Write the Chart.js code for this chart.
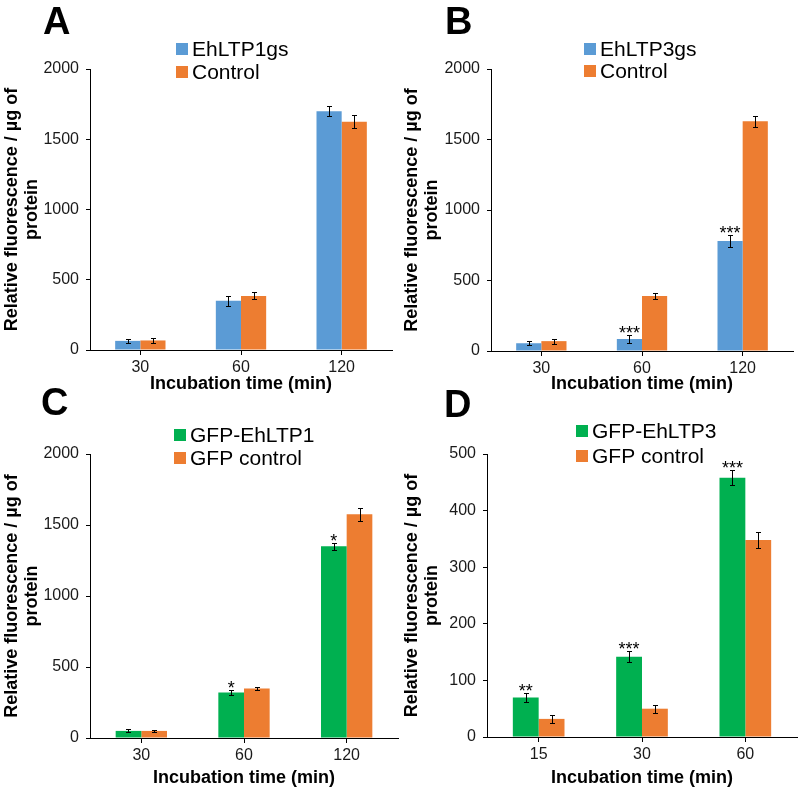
<!DOCTYPE html>
<html>
<head>
<meta charset="utf-8">
<script src="https://cdn.jsdelivr.net/npm/chart.js@4"></script>
<style>
  body { margin: 0; background: #fff; }
  #wrap { position: relative; width: 800px; height: 792px; font-family: "Liberation Sans", Arial, sans-serif; }
  #wrap canvas { position: absolute; }
  .letter { position: absolute; font-size: 38px; font-weight: bold; line-height: 1; color: #000; z-index: 2; }
</style>
</head>
<body>
<div id="wrap">
  <canvas id="chartA" width="400" height="396" style="left:0;top:0"></canvas>
  <canvas id="chartB" width="400" height="396" style="left:400px;top:0"></canvas>
  <canvas id="chartC" width="400" height="396" style="left:0;top:396px"></canvas>
  <canvas id="chartD" width="400" height="396" style="left:400px;top:396px"></canvas>
  <div class="letter" style="left:43px;top:2px">A</div>
  <div class="letter" style="left:445px;top:2px">B</div>
  <div class="letter" style="left:41px;top:383px">C</div>
  <div class="letter" style="left:444px;top:385px">D</div>
</div>
<script>
const blue = "#5B9BD5";
const orange = "#ED7D31";
const green = "#00B050";

// panel A
const timesA = ["30", "60", "120"];
const ehltp1 = [65, 350, 1700];
const ehltp1Err = [15, 35, 35];
const controlA = [68, 385, 1625];
const controlAErr = [18, 25, 45];

// panel B
const timesB = ["30", "60", "120"];
const ehltp3 = [55, 85, 780];
const ehltp3Err = [15, 28, 40];
const ehltp3Stars = ["", "***", "***"];
const controlB = [70, 390, 1630];
const controlBErr = [18, 22, 40];

// panel C
const timesC = ["30", "60", "120"];
const gfpEhltp1 = [50, 320, 1350];
const gfpEhltp1Err = [10, 15, 25];
const gfpEhltp1Stars = ["", "*", "*"];
const gfpControlC = [50, 348, 1575];
const gfpControlCErr = [8, 12, 45];

// panel D
const timesD = ["15", "30", "60"];
const gfpEhltp3 = [70, 142, 458];
const gfpEhltp3Err = [8, 10, 13];
const gfpEhltp3Stars = ["**", "***", "***"];
const gfpControlD = [32, 50, 348];
const gfpControlDErr = [7, 7, 14];

Chart.defaults.font.family = "'Liberation Sans', Arial, sans-serif";
Chart.defaults.color = "#000";

// error bars + significance stars
const errorBars = {
  id: "errorBars",
  afterDatasetsDraw(chart) {
    const ctx = chart.ctx;
    const y = chart.scales.y;
    ctx.save();
    ctx.strokeStyle = "#000";
    ctx.lineWidth = 1;
    chart.data.datasets.forEach((ds, i) => {
      chart.getDatasetMeta(i).data.forEach((bar, j) => {
        const v = ds.data[j], e = ds.errors[j];
        const top = Math.round(y.getPixelForValue(v + e)) + 0.5;
        const bot = Math.round(y.getPixelForValue(v - e)) + 0.5;
        const x = Math.round(bar.x) + 0.5;
        ctx.beginPath();
        ctx.moveTo(x, top); ctx.lineTo(x, bot);
        ctx.moveTo(x - 2.5, top); ctx.lineTo(x + 2.5, top);
        ctx.moveTo(x - 2.5, bot); ctx.lineTo(x + 2.5, bot);
        ctx.stroke();
        if (ds.stars && ds.stars[j]) {
          ctx.fillStyle = "#000";
          ctx.font = "18px 'Liberation Sans', Arial, sans-serif";
          ctx.textAlign = "center";
          ctx.textBaseline = "alphabetic";
          ctx.fillText(ds.stars[j], bar.x, top + 3);
        }
      });
    });
    ctx.restore();
  }
};

// stacked legend in the upper part of each panel
const boxLegend = {
  id: "boxLegend",
  afterDraw(chart, args, opts) {
    const ctx = chart.ctx;
    ctx.save();
    ctx.font = "21px 'Liberation Sans', Arial, sans-serif";
    ctx.textBaseline = "middle";
    ctx.textAlign = "left";
    chart.data.datasets.forEach((ds, i) => {
      const cy = opts.y + i * opts.gap;
      ctx.fillStyle = ds.backgroundColor;
      ctx.fillRect(opts.x, cy - 6, 12, 12);
      ctx.fillStyle = "#000";
      ctx.fillText(ds.label, opts.x + 16, cy + 1);
    });
    ctx.restore();
  }
};

function makeChart(id, labels, datasets, yMax, step, g) {
  const ctx = document.getElementById(id).getContext("2d");
  return new Chart(ctx, {
    type: "bar",
    data: { labels, datasets },
    plugins: [errorBars, boxLegend],
    options: {
      responsive: false,
      animation: false,
      layout: { padding: { top: g.top, right: g.right, left: 0, bottom: 0 } },
      datasets: { bar: { categoryPercentage: 0.5, barPercentage: 1.0 } },
      plugins: {
        legend: { display: false },
        tooltip: { enabled: false },
        boxLegend: g.legend
      },
      scales: {
        x: {
          afterFit: s => { s.height = g.xHeight; },
          border: { color: "#000", width: 1 },
          grid: { offset: false, drawOnChartArea: false, color: "#000", tickLength: 5 },
          ticks: { font: { size: 16 }, color: "#1a1a1a", padding: 3 },
          title: {
            display: true,
            text: "Incubation time (min)",
            font: { size: 18, weight: "bold" },
            padding: { top: 0, bottom: g.titleBottom }
          }
        },
        y: {
          min: 0,
          max: yMax,
          afterFit: s => { s.width = g.yWidth; },
          border: { color: "#000", width: 1 },
          grid: { drawOnChartArea: false, color: "#000", tickLength: 4 },
          ticks: { stepSize: step, font: { size: 16 }, color: "#1a1a1a", padding: 7, callback: v => String(v) },
          title: {
            display: true,
            text: ["Relative fluorescence / \u00b5g of", "protein"],
            font: { size: 18, weight: "bold", lineHeight: 1.1 },
            padding: { top: 2, bottom: 0 }
          }
        }
      }
    }
  });
}

makeChart("chartA", timesA, [
  { label: "EhLTP1gs", data: ehltp1, errors: ehltp1Err, backgroundColor: blue },
  { label: "Control", data: controlA, errors: controlAErr, backgroundColor: orange }
], 2000, 500, { top: 69, right: 8, yWidth: 90, xHeight: 46, titleBottom: 1, legend: { x: 176, y: 49, gap: 23 } });

makeChart("chartB", timesB, [
  { label: "EhLTP3gs", data: ehltp3, errors: ehltp3Err, stars: ehltp3Stars, backgroundColor: blue },
  { label: "Control", data: controlB, errors: controlBErr, backgroundColor: orange }
], 2000, 500, { top: 69, right: 7, yWidth: 91, xHeight: 45, titleBottom: 1, legend: { x: 184, y: 49, gap: 22 } });

makeChart("chartC", timesC, [
  { label: "GFP-EhLTP1", data: gfpEhltp1, errors: gfpEhltp1Err, stars: gfpEhltp1Stars, backgroundColor: green },
  { label: "GFP control", data: gfpControlC, errors: gfpControlCErr, backgroundColor: orange }
], 2000, 500, { top: 58, right: 2, yWidth: 90, xHeight: 54, titleBottom: 3, legend: { x: 174, y: 39, gap: 23 } });

makeChart("chartD", timesD, [
  { label: "GFP-EhLTP3", data: gfpEhltp3, errors: gfpEhltp3Err, stars: gfpEhltp3Stars, backgroundColor: green },
  { label: "GFP control", data: gfpControlD, errors: gfpControlDErr, backgroundColor: orange }
], 500, 100, { top: 58, right: 3, yWidth: 87, xHeight: 55, titleBottom: 3, legend: { x: 176, y: 35, gap: 25 } });
</script>
</body>
</html>
